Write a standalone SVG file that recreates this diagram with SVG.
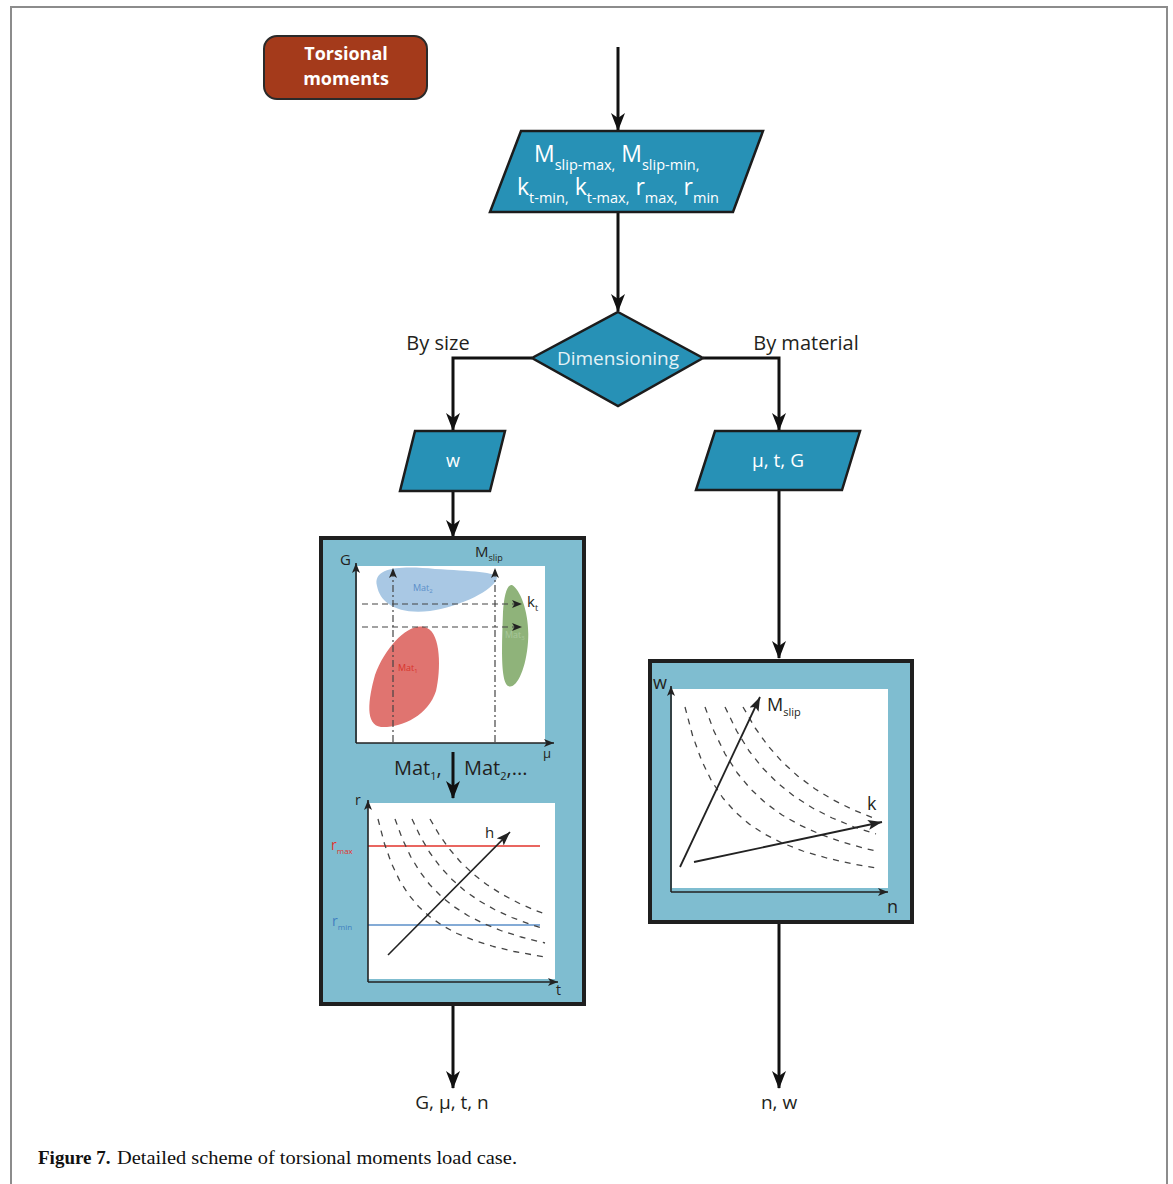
<svg xmlns="http://www.w3.org/2000/svg" width="1173" height="1184" viewBox="0 0 1173 1184">
<defs>
<style>
.lbl{font-family:"Open Sans","Noto Sans",sans-serif;fill:#231f20}
.wt{font-family:"Open Sans","Noto Sans",sans-serif;fill:#ffffff}
.conn{fill:none;stroke:#111;stroke-width:3}
.io{fill:#2791b6;stroke:#1c1c1c;stroke-width:2.5}
.panel{fill:#7fbdd0;stroke:#1f1f1f;stroke-width:4}
.axis{fill:none;stroke:#222;stroke-width:1.6}
.curve{fill:none;stroke:#444;stroke-width:1.3;stroke-dasharray:6 6;stroke-linejoin:round}
.dash{fill:none;stroke:#444;stroke-width:1.2;stroke-dasharray:6 4}
.dashdot{fill:none;stroke:#444;stroke-width:1.2;stroke-dasharray:7 3 2 3}
</style>
<marker id="ah" viewBox="0 0 18 14" refX="17" refY="7" markerWidth="18" markerHeight="14" orient="auto" markerUnits="userSpaceOnUse">
<path d="M0,0 L18,7 L0,14 L5,7 Z" fill="#111"/>
</marker>
<marker id="sa" viewBox="0 0 10 8" refX="10" refY="4" markerWidth="10" markerHeight="8" orient="auto" markerUnits="userSpaceOnUse">
<path d="M0,0 L10,4 L0,8 L2.5,4 Z" fill="#222"/>
</marker>
<marker id="ma" viewBox="0 0 14 10" refX="14" refY="5" markerWidth="14" markerHeight="10" orient="auto" markerUnits="userSpaceOnUse">
<path d="M0,0 L14,5 L0,10 L3,5 Z" fill="#222"/>
</marker>
</defs>

<rect x="0" y="0" width="1173" height="1184" fill="#ffffff"/>
<path d="M11,1190 L11,7 L1167,7 L1167,1190" fill="none" stroke="#8c8c8c" stroke-width="2"/>

<g id="connectors">
<path class="conn" d="M618,47 L618,130" marker-end="url(#ah)"/>
<path class="conn" d="M618,212 L618,311" marker-end="url(#ah)"/>
<path class="conn" d="M532,358 L453,358 L453,430" marker-end="url(#ah)"/>
<path class="conn" d="M703,358 L779,358 L779,430" marker-end="url(#ah)"/>
<path class="conn" d="M453,491 L453,537" marker-end="url(#ah)"/>
<path class="conn" d="M779,490 L779,658" marker-end="url(#ah)"/>
<path class="conn" d="M453,1006 L453,1088" marker-end="url(#ah)"/>
<path class="conn" d="M779,924 L779,1088" marker-end="url(#ah)"/>
<text class="lbl" x="438" y="350" font-size="20" text-anchor="middle">By size</text>
<text class="lbl" x="806" y="350" font-size="20" text-anchor="middle">By material</text>
</g>

<g id="start">
<rect x="264" y="36" width="163" height="63" rx="13" ry="13" fill="#a43a1b" stroke="#2a2a2a" stroke-width="2"/>
<text class="wt" x="346" y="60" font-size="18" font-weight="bold" text-anchor="middle">Torsional</text>
<text class="wt" x="346" y="85" font-size="18" font-weight="bold" text-anchor="middle">moments</text>
</g>

<g id="inputs">
<polygon class="io" points="521,131 763,131 733,212 490,212"/>
<text class="wt" x="534" y="162" font-size="23">M<tspan font-size="14.5" dy="8">slip-max,</tspan><tspan dy="-8"> M</tspan><tspan font-size="14.5" dy="8">slip-min,</tspan></text>
<text class="wt" x="517" y="195" font-size="23">k<tspan font-size="14.5" dy="8">t-min,</tspan><tspan dy="-8"> k</tspan><tspan font-size="14.5" dy="8">t-max,</tspan><tspan dy="-8"> r</tspan><tspan font-size="14.5" dy="8">max,</tspan><tspan dy="-8"> r</tspan><tspan font-size="14.5" dy="8">min</tspan></text>
</g>

<g id="decision">
<polygon points="618,312 703,358 618,406 532,358" fill="#2791b6" stroke="#1c1c1c" stroke-width="2.5"/>
<text x="618" y="365" font-size="19" text-anchor="middle" font-family="Open Sans, Noto Sans, sans-serif" fill="#e4f2f7">Dimensioning</text>
</g>

<g id="w-input">
<polygon class="io" points="415,431 505,431 490,491 400,491"/>
<text class="wt" x="453" y="467" font-size="18" text-anchor="middle">w</text>
</g>

<g id="mtg-input">
<polygon class="io" points="715,431 860,431 842,490 696,490"/>
<text class="wt" x="778" y="467" font-size="19" text-anchor="middle">μ, t, G</text>
</g>

<g id="size-panel">
<rect class="panel" x="321" y="538" width="263" height="466"/>
<!-- chart 1 -->
<rect x="357" y="566" width="188" height="177" fill="#ffffff"/>
<path d="M377,586 C372,566 405,566 435,569 C470,571 498,572 497,578 C494,590 462,606 430,611 C396,615 380,602 377,586 Z" fill="#a9c8e4"/>
<path d="M512,585 C521,590 530,615 528,642 C526,670 516,690 508,686 C500,681 502,642 503,612 C504,596 507,584 512,585 Z" fill="#8fb37a"/>
<path d="M427,628 C441,634 441,670 436,691 C428,716 401,728 381,727 C365,725 368,700 375,675 C386,645 411,620 427,628 Z" fill="#e07470"/>
<text x="413" y="591" font-size="9" font-family="Open Sans, sans-serif" fill="#5b8fc9">Mat<tspan font-size="6" dy="2">2</tspan></text>
<text x="398" y="671" font-size="9" font-family="Open Sans, sans-serif" fill="#d8332b">Mat<tspan font-size="6" dy="2">1</tspan></text>
<text x="505" y="638" font-size="9" font-family="Open Sans, sans-serif" fill="#a8c79a">Mat<tspan font-size="6" dy="2">3</tspan></text>
<path class="dash" d="M362,604 L522,604" marker-end="url(#sa)"/>
<path class="dash" d="M362,627 L522,627" marker-end="url(#sa)"/>
<path class="dashdot" d="M393,742 L393,568" marker-end="url(#sa)"/>
<path class="dashdot" d="M495,742 L495,568" marker-end="url(#sa)"/>
<path class="axis" d="M356,743 L356,563" marker-end="url(#sa)"/>
<path class="axis" d="M356,743 L554,743" marker-end="url(#sa)"/>
<text class="lbl" x="340" y="565" font-size="15">G</text>
<text class="lbl" x="475" y="557" font-size="15">M<tspan font-size="9" dy="4">slip</tspan></text>
<text class="lbl" x="527" y="607" font-size="15">k<tspan font-size="9" dy="4">t</tspan></text>
<text class="lbl" x="543" y="758" font-size="13">μ</text>
<!-- between -->
<text class="lbl" x="394" y="775" font-size="20">Mat<tspan font-size="11" dy="5">1</tspan><tspan dy="-5">,</tspan></text>
<path d="M453,752 L453,798" stroke="#111" stroke-width="3" fill="none" marker-end="url(#ah)"/>
<text class="lbl" x="464" y="775" font-size="20">Mat<tspan font-size="11" dy="5">2</tspan><tspan dy="-5">,...</tspan></text>
<!-- chart 2 -->
<rect x="368" y="803" width="187" height="176" fill="#ffffff"/>
<path d="M368,846 L540,846" stroke="#e2332b" stroke-width="1.3"/>
<path d="M368,925 L540,925" stroke="#5b8fc9" stroke-width="1.3"/>
<polyline class="curve" points="378,819 384.4,843.5 391.5,863.5 399.6,880.5 408.5,894.5 418.5,906.5 429.5,916.5 442.2,925.5 457.1,933.5 474.2,940.5 493.4,946.5 514.1,951.5 545,957"/>
<polyline class="curve" points="395,819 402.2,838.5 410.6,856.5 419.7,871.5 429.6,884.5 441.3,896.5 453.7,906.5 467.7,915.5 483.4,923.5 500.7,930.5 521,937 545,943"/>
<polyline class="curve" points="412,819 420.3,836.5 429.7,852.5 440,866.5 452,879.5 464.5,890.5 478.7,900.5 494.5,909.5 511.9,917.5 530.7,924.5 545,929"/>
<polyline class="curve" points="430,819 439.1,834.5 449,848.5 460.1,861.5 472.7,873.5 486.7,884.5 502.3,894.5 519.5,903.5 535.6,910.5 545,914"/>
<path d="M388,955 L510,832" stroke="#222" stroke-width="1.6" fill="none" marker-end="url(#ma)"/>
<path class="axis" d="M368,982 L368,800" marker-end="url(#sa)"/>
<path class="axis" d="M368,982 L558,982" marker-end="url(#sa)"/>
<text class="lbl" x="355" y="805" font-size="14">r</text>
<text class="lbl" x="556" y="995" font-size="14">t</text>
<text class="lbl" x="485" y="838" font-size="15">h</text>
<text x="331" y="850" font-size="14" font-family="Open Sans, sans-serif" fill="#e2332b">r<tspan font-size="8" dy="4">max</tspan></text>
<text x="332" y="926" font-size="14" font-family="Open Sans, sans-serif" fill="#3f7fc0">r<tspan font-size="8" dy="4">min</tspan></text>
</g>

<g id="material-panel">
<rect class="panel" x="650" y="661" width="262" height="261"/>
<rect x="672" y="689" width="216" height="199" fill="#ffffff"/>
<polyline class="curve" points="685,707 692.7,736 701.8,761 711.6,781 722.9,798 735.3,812 749.2,824 764.4,834 782.1,843 802.8,851 826.6,858 853.2,864 876,868"/>
<polyline class="curve" points="705,707 713.9,731 725.1,754 737.3,773 750.6,789 765.6,803 782.1,815 799.7,825 819.7,834 842.1,842 865,848.5 876,851"/>
<polyline class="curve" points="725,707 736.7,731 749.1,751 762.6,768 777.5,783 793.8,796 812.6,808 832.2,818 854.1,827 876,834"/>
<polyline class="curve" points="743,707 755.2,728 768.1,746 782.3,762 797.7,776 815.2,789 833.4,800 853.5,810 876,819"/>
<path d="M680,867 L760,697" stroke="#222" stroke-width="1.8" fill="none" marker-end="url(#ma)"/>
<path d="M694,862 L882,822" stroke="#222" stroke-width="1.8" fill="none" marker-end="url(#ma)"/>
<path class="axis" d="M671,892 L671,686" marker-end="url(#sa)"/>
<path class="axis" d="M671,892 L888,892" marker-end="url(#sa)"/>
<text class="lbl" x="653" y="689" font-size="18">w</text>
<text class="lbl" x="887" y="913" font-size="18">n</text>
<text class="lbl" x="867" y="810" font-size="18">k</text>
<text class="lbl" x="767" y="711" font-size="18">M<tspan font-size="11" dy="5">slip</tspan></text>
</g>

<g id="outputs">
<text class="lbl" x="452" y="1109" font-size="19" text-anchor="middle">G, μ, t, n</text>
<text class="lbl" x="779" y="1109" font-size="19" text-anchor="middle">n, w</text>
</g>

<g id="caption">
<text x="38" y="1164" font-size="19" font-weight="bold" font-family="Liberation Serif, serif" fill="#111">Figure 7.</text>
<text x="117" y="1164" font-size="19" font-family="Liberation Serif, serif" fill="#111" textLength="400" lengthAdjust="spacingAndGlyphs">Detailed scheme of torsional moments load case.</text>
</g>
</svg>
